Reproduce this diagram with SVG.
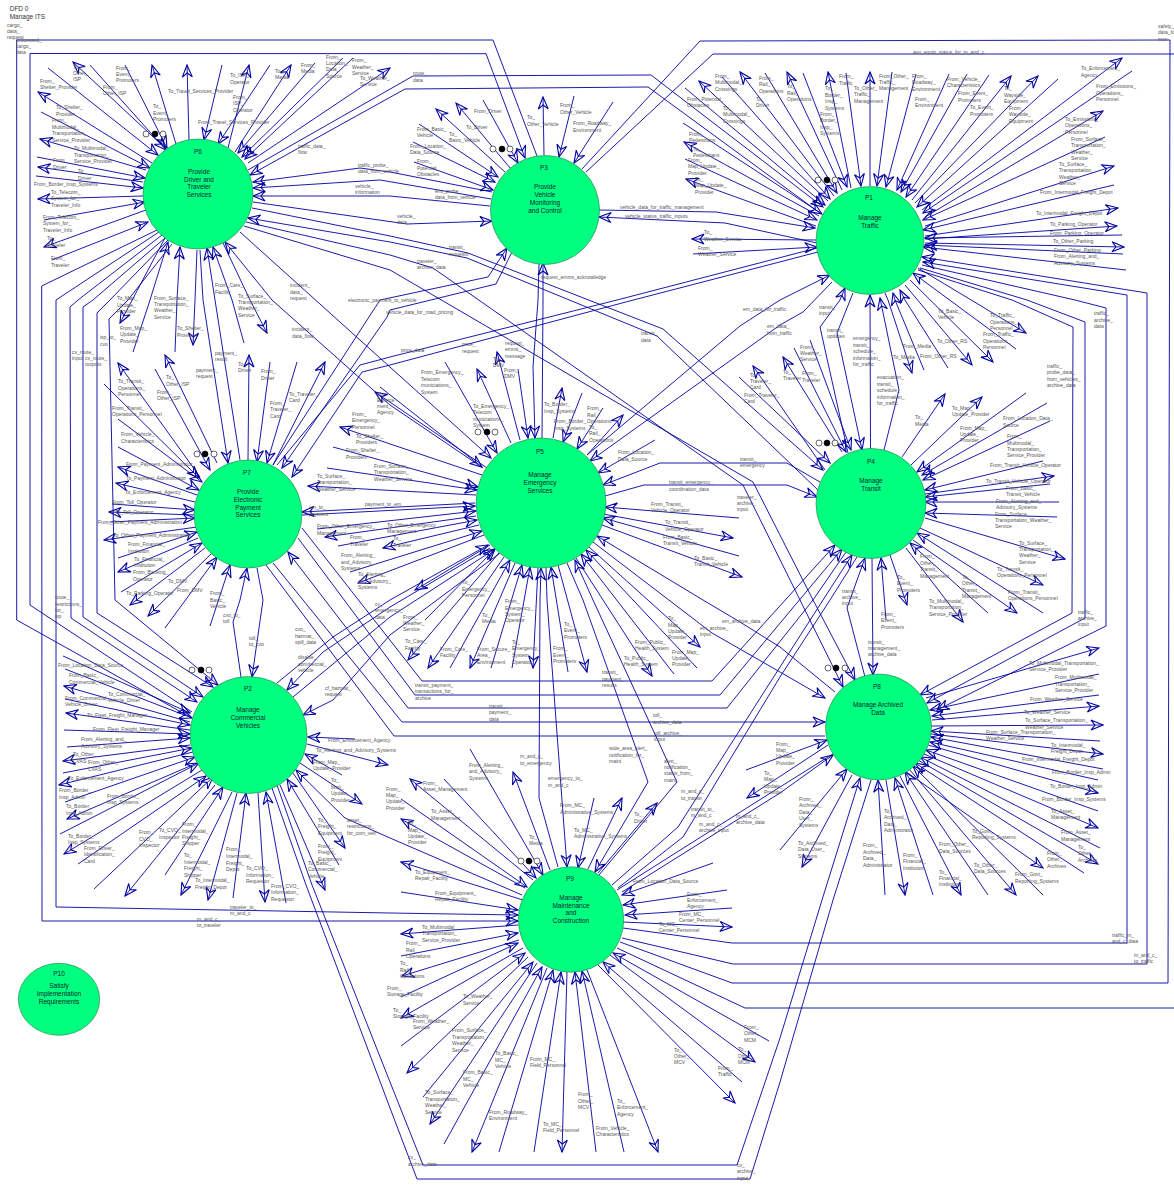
<svg xmlns="http://www.w3.org/2000/svg" width="1174" height="1185" viewBox="0 0 1174 1185">
<style>
path{fill:none;stroke:#0000a0;stroke-width:.9}
.a{marker-end:url(#h)}
.m{fill:none;stroke:#0000a0;stroke-width:1.1}
.t text{font:5px "Liberation Sans",Arial,sans-serif;fill:#555}
.d{font:6.5px "Liberation Sans",Arial,sans-serif;fill:#333}
.n{fill:#00ff7f;stroke:#2e8b57;stroke-width:.7}
.x{font:6.5px "Liberation Sans",Arial,sans-serif;fill:#023;text-anchor:middle}
.o{fill:#fff;stroke:#000;stroke-width:.6}
.b{fill:#000;stroke:#000;stroke-width:.6}
</style>
<defs><marker id="h" markerUnits="userSpaceOnUse" markerWidth="15" markerHeight="15" viewBox="-14 -7.5 15 15" refX="0" refY="0" orient="auto"><path class="m" d="M0,0L-12,-5L-8,0L-12,5Z"/></marker></defs>
<rect width="1174" height="1185" fill="#fff"/>
<g id="connectors">
<path class="a" d="M165,148L73,62"/><path class="a" d="M48,68L158,155"/><path class="a" d="M90,65L166,150"/><path class="a" d="M125,65L167,148"/><path class="a" d="M176,144L152,65"/><path class="a" d="M189,140L187,65"/><path class="a" d="M222,65L204,140"/><path class="a" d="M270,65L218,144"/><path class="a" d="M228,148L249,65"/><path class="a" d="M235,152L291,65"/><path class="a" d="M315,63L238,153"/><path class="a" d="M343,58L242,157"/><path class="a" d="M353,58L245,159"/><path class="a" d="M248,163L390,68"/>
<path class="a" d="M152,163L38,92"/><path class="a" d="M41,112L150,168"/><path class="a" d="M146,170L40,139"/><path class="a" d="M37,157L145,178"/><path class="a" d="M143,182L38,167"/><path class="a" d="M36,176L143,188"/><path class="a" d="M143,196L38,199"/><path class="a" d="M44,220L145,202"/><path class="a" d="M146,210L44,247"/><path class="a" d="M52,260L148,222"/>
<path class="a" d="M248,170L413,76L651,75L823,207"/><path class="a" d="M820,213L648,87L405,89L250,175"/>
<path class="a" d="M492,192L390,172L360,168L253,182"/><path class="a" d="M491,199L380,180L253,188"/><path class="a" d="M490,206L390,196L253,196"/><path class="a" d="M253,202L407,224L492,221"/>
<path class="a" d="M252,208L390,236L468,253L663,329L823,470"/><path class="a" d="M818,490L657,336L467,258L390,242L248,218"/>
<path class="a" d="M246,222L390,255L433,268L743,485L800,600L843,687"/><path class="a" d="M244,226L390,270L753,482L813,600L855,680"/>
<path class="a" d="M240,232L491,458"/><path class="a" d="M483,468L390,405L272,300L225,242"/>
<path class="a" d="M244,343L232,300L213,247"/><path class="a" d="M223,243L250,300L267,333"/><path class="a" d="M200,250L203,300L228,463"/><path class="a" d="M240,460L215,300L207,248"/><path class="a" d="M197,250L195,300L193,345"/><path class="a" d="M175,352L177,300L180,247"/><path class="a" d="M133,352L150,300L168,242"/><path class="a" d="M165,238L120,323"/>
<path d="M172,244L128,300L109,319L115,600L218,685" class="a"/><path d="M168,240L110,300L97,313L97,613L213,687" class="a"/><path d="M165,238L93,300L83,307L83,617L203,697" class="a"/><path d="M162,235L78,300L70,307L71,618L197,702" class="a"/>
<path d="M157,230L41.7,286L42,921L518,921" class="a"/><path d="M159,232L56,300L56,907L390,913L518,915" class="a"/>
<path class="a" d="M192,712L30,605L30,53.5L486,53.7L525,158"/><path d="M190,717L16.7,620L16.7,40L493,40L537,156"/>
<path d="M582,169L700,41L1170,40L1168,983L732,983L620,942"/><path d="M586,172L713,54L1174,54"/><path d="M617,948L745,1008L1174,1008"/>
<path class="a" d="M505,172L436,109"/><path class="a" d="M510,168L456,103"/><path class="a" d="M483,100L518,163"/><path class="a" d="M544,155L543,97"/><path class="a" d="M574,96L559,157"/><path class="a" d="M613,102L574,163"/><path class="a" d="M419,124L498,177"/><path class="a" d="M413,142L495,182"/><path class="a" d="M414,162L493,190"/>
<path class="a" d="M599,210L716,212L815,228"/><path class="a" d="M817,243L725,223L599,217"/>
<path class="a" d="M273,465L380,300L488,277L507,248"/><path class="a" d="M512,252L496,284L390,310L387,317L282,468"/>
<path d="M817,248L617,300L390,357L360,365L277,465"/><path class="a" d="M818,252L622,303L390,365L362,372L292,477"/>
<path class="a" d="M542,438L543,300L543,263"/><path class="a" d="M539,264L538,300L533,367L535,438"/>
<path class="a" d="M851,188L828,72"/><path class="a" d="M803,73L847,187"/><path class="a" d="M842,190L787,72"/><path class="a" d="M765,73L837,193"/><path class="a" d="M834,196L740,72"/><path class="a" d="M722,77L830,199"/><path class="a" d="M828,201L699,81"/><path class="a" d="M685,88L825,205"/><path class="a" d="M683,123L822,214"/><path class="a" d="M819,216L684,142"/><path class="a" d="M685,159L817,220"/><path class="a" d="M816,226L686,179"/><path class="a" d="M817,240L692,239"/><path class="a" d="M693,254L817,247"/>
<path class="a" d="M846,73L861,186"/><path class="a" d="M870,186L870,72"/><path class="a" d="M892,72L877,186"/><path class="a" d="M916,74L886,187"/><path class="a" d="M949,74L897,190"/><path class="a" d="M967,74L901,192"/><path class="a" d="M989,75L906,197"/><path class="a" d="M912,200L1011,76"/><path class="a" d="M915,203L1038,76"/><path class="a" d="M1058,79L917,207"/><path class="a" d="M922,210L1122,58"/><path class="a" d="M1132,71L923,213"/><path class="a" d="M925,217L1103,111"/><path class="a" d="M1105,137L923,220"/><path class="a" d="M925,226L1114,166"/><path class="a" d="M1114,185L923,230"/><path class="a" d="M925,236L1118,208"/><path class="a" d="M925,239L1117,226"/><path class="a" d="M1122,235L925,238"/><path class="a" d="M925,243L1124,247"/><path class="a" d="M1123,254L925,245"/><path class="a" d="M1126,270L923,247"/>
<path class="a" d="M622,938L733,964L1147,964L1147,293L922,257"/><path class="a" d="M623,928L732,943L1127,943L1127,295L923,262"/>
<path class="a" d="M922,265L1075,300L1106,308L1106,626L937,710"/><path class="a" d="M920,268L1027,300L1085,322L1085,618L927,703"/><path class="a" d="M918,270L1012,300L1073,327L1072,613L920,695"/>
<path class="a" d="M885,293L888,300L912,373"/><path class="a" d="M924,370L895,300L893,293"/><path class="a" d="M948,368L905,300L900,290"/><path class="a" d="M905,285L972,365"/><path class="a" d="M910,280L993,362"/><path class="a" d="M1016,349L913,273"/><path class="a" d="M918,268L1026,333"/>
<path class="a" d="M870.5,449L870,295"/><path class="a" d="M884,450L899,390L880,298"/>
<path class="a" d="M587,455L740,326L780,300L830,275"/><path class="a" d="M832,282L803,312L780,325L590,461"/>
<path class="a" d="M848,453L820,327L840,300L845,288"/><path class="a" d="M853,293L837,333L862,450"/>
<path class="a" d="M825,470L753,366"/><path class="a" d="M739,377L830,463"/><path class="a" d="M842,452L783,357"/><path class="a" d="M794,348L846,452"/><path class="a" d="M810,340L851,450"/>
<path class="a" d="M820,482L787,463L660,463L603,485"/><path class="a" d="M605,496L644,485L787,485L817,497"/>
<path class="a" d="M902,457L945,394"/><path class="a" d="M911,465L982,397"/><path class="a" d="M1026,393L917,472"/><path class="a" d="M1047,403L922,475"/><path class="a" d="M1050,421L923,480"/><path class="a" d="M1043,461L925,490"/><path class="a" d="M925,494L1054,476"/><path class="a" d="M1050,484L925,497"/><path class="a" d="M1059,502L925,502"/><path class="a" d="M1057,517L925,513"/><path class="a" d="M925,518L1065,559"/><path class="a" d="M920,528L1043,585"/><path class="a" d="M1043,613L917,533"/><path class="a" d="M913,540L1017,613"/><path class="a" d="M988,613L910,543"/><path class="a" d="M906,548L963,622"/><path class="a" d="M890,555L907,605"/><path class="a" d="M886,620L881,558"/><path class="a" d="M872,558L873,675"/><path class="a" d="M865,677L847,608L865,558"/>
<path class="a" d="M302,528L422,681L712,681L835,545"/><path class="a" d="M298,538L415,695L720,695L842,549"/><path class="a" d="M846,552L813,600L727,708L408,708L288,552"/><path class="a" d="M273,563L402,722L825,722"/><path d="M266,565L394,736L825,736"/>
<path class="a" d="M257,568L263,600L252,677"/><path class="a" d="M241,677L233,622L240,600L247,568"/>
<path class="a" d="M200,477L118,363"/><path class="a" d="M104,384L199,478"/><path class="a" d="M217,463L165,355"/><path class="a" d="M155,369L210,470"/><path class="a" d="M248,460L249,355"/><path class="a" d="M270,362L257,462"/><path class="a" d="M297,362L267,463"/><path class="a" d="M273,465L325,362"/>
<path class="a" d="M118,419L202,482"/><path class="a" d="M118,447L199,490"/><path class="a" d="M197,495L118,467"/><path class="a" d="M195,502L116,483"/><path class="a" d="M112,504L195,510"/><path class="a" d="M195,515L109,512"/><path class="a" d="M110,522L195,518"/><path class="a" d="M197,527L104,540"/><path class="a" d="M118,558L197,532"/><path class="a" d="M198,538L118,572"/><path class="a" d="M121,592L202,543"/><path class="a" d="M205,548L130,605"/><path class="a" d="M212,553L148,616"/><path class="a" d="M165,628L217,557"/><path class="a" d="M210,626L230,565"/>
<path class="a" d="M475,503L302,512"/><path class="a" d="M302,515L475,506"/>
<path class="a" d="M445,362L497,453"/><path class="a" d="M511,443L477,369"/><path class="a" d="M520,440L497,352"/><path class="a" d="M518,369L528,438"/><path class="a" d="M553,438L562,388"/><path class="a" d="M582,393L563,442"/><path class="a" d="M603,408L577,449"/><path class="a" d="M587,455L623,415"/><path class="a" d="M655,440L598,473"/>
<path class="a" d="M739,518L605,507"/><path class="a" d="M603,514L733,538"/><path class="a" d="M739,556L603,518"/><path class="a" d="M602,525L742,577"/>
<path class="a" d="M576,558L652,676"/><path class="a" d="M674,674L581,554"/><path class="a" d="M697,668L586,550"/><path class="a" d="M589,547L700,647"/>
<path class="a" d="M593,542L712,633L780,672L825,698"/><path class="a" d="M835,692L780,647L740,622L703,600L597,536"/>
<path class="a" d="M558,565L587,672"/><path class="a" d="M568,672L551,567"/><path class="a" d="M538,568L533,668"/><path class="a" d="M512,668L530,567"/><path class="a" d="M491,668L522,565"/><path class="a" d="M515,563L470,668"/><path class="a" d="M450,668L510,560"/><path class="a" d="M504,557L428,668"/><path class="a" d="M499,553L408,660"/><path class="a" d="M425,620L495,549"/>
<path class="a" d="M490,470L375,392"/><path class="a" d="M380,387L482,467"/><path class="a" d="M482,475L340,427"/><path class="a" d="M333,447L478,487"/><path class="a" d="M327,468L477,490"/><path class="a" d="M476,495L308,486"/>
<path class="a" d="M317,529L476,511"/><path class="a" d="M476,516L325,537"/><path class="a" d="M338,546L477,520"/><path class="a" d="M479,525L383,548"/><path class="a" d="M350,572L482,531"/><path class="a" d="M484,535L358,583"/><path class="a" d="M490,545L415,590"/>
<path class="a" d="M277,683L333,637L390,600L488,545"/><path class="a" d="M490,548L390,607L323,652L287,690"/><path class="a" d="M293,697L390,617L495,549"/><path class="a" d="M500,553L390,635L333,700L303,715"/>
<path class="a" d="M558,867L539,798L540,600L541,568"/><path class="a" d="M546,568L547,600L567,867"/>
<path class="a" d="M567,563L583,600L648,782L595,872"/><path class="a" d="M599,875L677,782L593,600L575,560"/>
<path d="M612,885L678,827L780,667L823,600L852,555" class="a"/><path d="M857,557L830,600L780,677L683,837L618,888"/>
<path class="a" d="M63,656L190,713"/><path class="a" d="M65,669L192,718"/><path class="a" d="M190,722L64,686"/><path class="a" d="M65,699L190,725"/><path class="a" d="M190,730L66,713"/><path class="a" d="M64,730L190,734"/><path class="a" d="M67,747L190,738"/><path class="a" d="M190,745L63,761"/><path class="a" d="M63,773L192,748"/><path class="a" d="M193,752L59,785"/><path class="a" d="M65,802L195,757"/><path class="a" d="M197,763L67,819"/><path class="a" d="M60,834L199,763"/><path class="a" d="M202,770L64,854"/><path class="a" d="M78,864L206,776"/><path class="a" d="M215,785L125,896"/><path class="a" d="M94,889L213,777"/><path class="a" d="M165,875L223,787"/><path class="a" d="M232,792L181,895"/><path class="a" d="M233,898L246,793"/><path class="a" d="M237,793L208,900"/><path class="a" d="M258,793L265,902"/><path class="a" d="M286,903L266,792"/>
<path class="a" d="M355,739L308,737"/><path class="a" d="M307,744L388,765"/><path class="a" d="M342,775L305,754"/><path class="a" d="M300,763L362,804"/><path class="a" d="M522,895L390,838L345,818L296,770"/><path class="a" d="M293,773L345,848"/><path class="a" d="M339,865L287,779"/><path class="a" d="M280,785L325,890"/>
<path class="a" d="M277,785L312,885L390,1082L423,1165L737,1165L780,1038L822,900L860,778"/><path d="M272,788L306,885L390,1108L417,1179L750,1179L780,1082L833,900L871,780"/>
<path class="a" d="M926,698L1099,648"/><path class="a" d="M1099,674L930,710"/><path class="a" d="M1099,695L932,716"/><path class="a" d="M932,720L1099,706"/><path class="a" d="M931,726L1103,725"/><path class="a" d="M1100,741L931,731"/><path class="a" d="M931,734L1103,754"/><path class="a" d="M1103,769L931,737"/><path class="a" d="M1098,780L930,742"/><path class="a" d="M928,745L1098,793"/><path class="a" d="M1098,811L926,750"/><path class="a" d="M924,754L1098,828"/><path class="a" d="M1100,848L920,757"/><path class="a" d="M918,760L1098,864"/><path class="a" d="M1084,873L915,763"/><path class="a" d="M905,771L1043,868"/><path class="a" d="M1043,895L913,766"/><path class="a" d="M909,769L1016,895"/><path class="a" d="M988,895L905,772"/><path class="a" d="M900,776L961,895"/><path class="a" d="M933,895L895,778"/><path class="a" d="M886,780L905,895"/><path class="a" d="M885,895L878,780"/><path class="a" d="M852,775L802,867"/><path class="a" d="M780,850L847,769"/>
<path class="a" d="M746,770L827,740"/><path class="a" d="M828,745L747,798"/><path class="a" d="M622,892L780,793L833,755"/><path d="M617,890L780,787L836,752"/>
<path class="a" d="M470,749L543,875"/><path class="a" d="M550,870L513,772"/><path class="a" d="M594,798L578,868"/><path class="a" d="M588,869L622,798"/><path class="a" d="M598,873L657,803"/>
<path class="a" d="M713,863L622,895"/><path class="a" d="M727,890L623,905"/><path class="a" d="M732,908L625,915"/><path class="a" d="M623,922L732,927"/><path class="a" d="M769,1041L613,953"/><path class="a" d="M610,955L755,1062"/><path class="a" d="M742,1082L603,962"/><path class="a" d="M598,965L735,1103"/><path class="a" d="M587,970L658,1152"/><path class="a" d="M624,1152L582,971"/><path class="a" d="M596,1152L575,972"/><path class="a" d="M567,972L562,1152"/><path class="a" d="M534,1152L561,972"/><path class="a" d="M499,1152L553,970"/><path class="a" d="M547,968L472,1152"/><path class="a" d="M444,1144L542,967"/><path class="a" d="M537,963L430,1124"/><path class="a" d="M423,1097L533,962"/><path class="a" d="M528,957L407,1073"/><path class="a" d="M401,1046L525,953"/><path class="a" d="M523,948L401,1018"/><path class="a" d="M401,997L518,943"/><path class="a" d="M519,940L402,976"/><path class="a" d="M401,956L518,933"/><path class="a" d="M518,925L401,934"/><path class="a" d="M401,892L518,910"/><path class="a" d="M523,900L401,862"/><path class="a" d="M525,888L401,819"/><path class="a" d="M401,799L527,887"/><path class="a" d="M533,880L410,779"/><path class="a" d="M444,779L536,878"/>
</g>
<g id="P1"><circle class="n" cx="870" cy="240.5" r="54"/><text class="x"><tspan x="869" y="200">P1</tspan><tspan x="870" y="220">Manage</tspan><tspan x="870" y="228">Traffic</tspan></text><circle class="o" cx="818" cy="180" r="3"/><circle class="b" cx="827" cy="180" r="3"/><circle class="o" cx="835" cy="180" r="3"/></g>
<g id="P2"><circle class="n" cx="248.5" cy="735" r="58.5"/><text class="x"><tspan x="248" y="691">P2</tspan><tspan x="248" y="712">Manage</tspan><tspan x="248" y="720">Commercial</tspan><tspan x="248" y="728">Vehicles</tspan></text><circle class="o" cx="192" cy="670" r="3"/><circle class="b" cx="201" cy="670" r="3"/><circle class="o" cx="209" cy="670" r="3"/></g>
<g id="P3"><circle class="n" cx="545" cy="210" r="54.5"/><text class="x"><tspan x="544" y="170">P3</tspan><tspan x="545" y="189">Provide</tspan><tspan x="545" y="197">Vehicle</tspan><tspan x="545" y="205">Monitoring</tspan><tspan x="545" y="213">and Control</tspan></text><circle class="o" cx="493" cy="149" r="3"/><circle class="b" cx="502" cy="149" r="3"/><circle class="o" cx="510" cy="149" r="3"/></g>
<g id="P4"><circle class="n" cx="871" cy="503.5" r="55"/><text class="x"><tspan x="871" y="464">P4</tspan><tspan x="871" y="483">Manage</tspan><tspan x="871" y="491">Transit</tspan></text><circle class="o" cx="819" cy="443" r="3"/><circle class="b" cx="827" cy="443" r="3"/><circle class="o" cx="835" cy="443" r="3"/></g>
<g id="P5"><circle class="n" cx="541" cy="503" r="65"/><text class="x"><tspan x="540" y="454">P5</tspan><tspan x="540" y="477">Manage</tspan><tspan x="540" y="485">Emergency</tspan><tspan x="540" y="493">Services</tspan></text><circle class="o" cx="478" cy="432" r="3"/><circle class="b" cx="487" cy="432" r="3"/><circle class="o" cx="495" cy="432" r="3"/></g>
<g id="P6"><circle class="n" cx="198" cy="194" r="55"/><text class="x"><tspan x="198" y="154">P6</tspan><tspan x="199" y="174">Provide</tspan><tspan x="199" y="182">Driver and</tspan><tspan x="199" y="189">Traveler</tspan><tspan x="199" y="197">Services</tspan></text><circle class="o" cx="146" cy="134" r="3"/><circle class="b" cx="155" cy="134" r="3"/><circle class="o" cx="163" cy="134" r="3"/></g>
<g id="P7"><circle class="n" cx="248" cy="514" r="54"/><text class="x"><tspan x="247" y="475">P7</tspan><tspan x="248" y="494">Provide</tspan><tspan x="248" y="502">Electronic</tspan><tspan x="248" y="510">Payment</tspan><tspan x="248" y="517">Services</tspan></text><circle class="o" cx="197" cy="454" r="3"/><circle class="b" cx="205" cy="454" r="3"/><circle class="o" cx="214" cy="454" r="3"/></g>
<g id="P8"><circle class="n" cx="878.5" cy="727" r="53"/><text class="x"><tspan x="877" y="689">P8</tspan><tspan x="878" y="707">Manage Archived</tspan><tspan x="878" y="715">Data</tspan></text><circle class="o" cx="828" cy="668" r="3"/><circle class="b" cx="836" cy="668" r="3"/><circle class="o" cx="845" cy="668" r="3"/></g>
<g id="P9"><circle class="n" cx="571" cy="919.5" r="52.7"/><text class="x"><tspan x="570" y="881">P9</tspan><tspan x="571" y="900">Manage</tspan><tspan x="571" y="908">Maintenance</tspan><tspan x="571" y="915">and</tspan><tspan x="571" y="923">Construction</tspan></text><circle class="o" cx="521" cy="861" r="3"/><circle class="b" cx="529" cy="861" r="3"/><circle class="o" cx="537" cy="861" r="3"/></g>
<g id="P10"><ellipse class="n" cx="59" cy="999.3" rx="40.7" ry="36"/><text class="x"><tspan x="59" y="976">P10</tspan><tspan x="59" y="988">Satisfy</tspan><tspan x="59" y="996">Implementation</tspan><tspan x="59" y="1004">Requirements</tspan></text></g>
<text class="d" x="9.7" y="11">DFD 0</text><text class="d" x="9.7" y="19">Manage ITS</text>
<g id="labels" class="t">
<text x="7" y="27">cargo_<tspan x="7" dy="6">data_</tspan><tspan x="7" dy="5.5">request</tspan></text>
<text x="16" y="41.5">processed_<tspan x="16" dy="6.5">cargo_</tspan><tspan x="16" dy="6">data</tspan></text>
<text x="73" y="68.5">To_<tspan x="73" dy="6.2">Other_</tspan><tspan x="73" dy="6.2">ISP</tspan></text>
<text x="103" y="89">From_<tspan x="103" dy="6.2">Other_ISP</tspan></text>
<text x="116" y="70">From_<tspan x="116" dy="6.2">Event_</tspan><tspan x="116" dy="6.2">Promoters</tspan></text>
<text x="40" y="83">From_<tspan x="40" dy="6.2">Shelter_Provider</tspan></text>
<text x="168" y="93">To_Travel_Services_Provider</text>
<text x="230" y="77">To_ISP_<tspan x="230" dy="6.8">Operator</tspan></text>
<text x="233" y="98.5">From_<tspan x="233" dy="6.5">ISP_</tspan><tspan x="233" dy="6.5">Operator</tspan></text>
<text x="275" y="73">To_<tspan x="275" dy="6.2">Media</tspan></text>
<text x="301" y="67">From_<tspan x="301" dy="6.2">Media</tspan></text>
<text x="326" y="59">From_<tspan x="326" dy="6.2">Location_</tspan><tspan x="326" dy="6.2">Data_</tspan><tspan x="326" dy="6.2">Source</tspan></text>
<text x="352" y="62">From_<tspan x="352" dy="6.5">Weather_</tspan><tspan x="352" dy="6.5">Service</tspan></text>
<text x="360" y="80">To_Weather_<tspan x="360" dy="6.2">Service</tspan></text>
<text x="153" y="108">To_<tspan x="153" dy="6.5">Event_</tspan><tspan x="153" dy="6.5">Promoters</tspan></text>
<text x="198" y="124">From_Travel_Services_Provider</text>
<text x="56" y="109">To_Shelter_<tspan x="56" dy="6.8">Provider</tspan></text>
<text x="52" y="122">From_<tspan x="52" dy="6.5">Multimodal_</tspan><tspan x="52" dy="6.5">Transportation_</tspan><tspan x="52" dy="6.5">Service_Provider</tspan></text>
<text x="74" y="150">To_Multimodal_<tspan x="74" dy="6.5">Transportation_</tspan><tspan x="74" dy="6.5">Service_Provider</tspan></text>
<text x="53" y="162">From_<tspan x="53" dy="6.5">Driver</tspan></text>
<text x="78" y="173">To_<tspan x="78" dy="7">Driver</tspan></text>
<text x="34" y="186">From_Border_Insp_Systems</text>
<text x="51" y="194">To_Telecom_<tspan x="51" dy="6.4">System_for_</tspan><tspan x="51" dy="6.4">Traveler_Info</tspan></text>
<text x="43" y="219">From_Telecom_<tspan x="43" dy="6.4">System_for_</tspan><tspan x="43" dy="6.4">Traveler_Info</tspan></text>
<text x="47" y="240">To_<tspan x="47" dy="6.6">Traveler</tspan></text>
<text x="51" y="260">From_<tspan x="51" dy="6.6">Traveler</tspan></text>
<text x="298" y="148">traffic_data_<tspan x="298" dy="6.2">flow</tspan></text>
<text x="358" y="167">traffic_probe_<tspan x="358" dy="6.2">data_from_vehicle</tspan></text>
<text x="355" y="188">vehicle_<tspan x="355" dy="6.4">information</tspan></text>
<text x="215" y="287">From_Care_<tspan x="215" dy="7">Facility</tspan></text>
<text x="238" y="298">To_Surface_<tspan x="238" dy="6.2">Transportation_</tspan><tspan x="238" dy="6.2">Weather_</tspan><tspan x="238" dy="6.2">Service</tspan></text>
<text x="290" y="287">incident_<tspan x="290" dy="6.6">data_</tspan><tspan x="290" dy="6.6">request</tspan></text>
<text x="348" y="302">electronic_payment_to_vehicle</text>
<text x="386" y="314">vehicle_data_for_road_pricing</text>
<text x="117" y="300">To_Map_<tspan x="117" dy="6.5">Update_</tspan><tspan x="117" dy="6.5">Provider</tspan></text>
<text x="154" y="300">From_Surface_<tspan x="154" dy="6.2">Transportation_</tspan><tspan x="154" dy="6.2">Weather_</tspan><tspan x="154" dy="6.2">Service</tspan></text>
<text x="120" y="330">From_Map_<tspan x="120" dy="6.4">Update_</tspan><tspan x="120" dy="6.4">Provider</tspan></text>
<text x="177" y="330">To_Shelter_<tspan x="177" dy="6.6">Provider</tspan></text>
<text x="100" y="339">isp_to_<tspan x="100" dy="6.6">cvo</tspan></text>
<text x="72" y="354">cv_route_<tspan x="72" dy="6">input</tspan></text>
<text x="85" y="360">cv_route_<tspan x="85" dy="6">outputs</tspan></text>
<text x="292" y="331">incident_<tspan x="292" dy="6.6">data_flow</tspan></text>
<text x="215" y="355">payment_<tspan x="215" dy="6">result</tspan></text>
<text x="238" y="366">To_<tspan x="238" dy="6">Driver</tspan></text>
<text x="261" y="373">From_<tspan x="261" dy="7">Driver</tspan></text>
<text x="196" y="372">payment_<tspan x="196" dy="6">request</tspan></text>
<text x="166" y="379">To_<tspan x="166" dy="6.6">Other_ISP</tspan></text>
<text x="157" y="394">From_<tspan x="157" dy="6.4">Other_ISP</tspan></text>
<text x="118" y="383">To_Transit_<tspan x="118" dy="6.7">Operations_</tspan><tspan x="118" dy="6.2">Personnel</tspan></text>
<text x="270" y="405">From_<tspan x="270" dy="6.2">Traveler_</tspan><tspan x="270" dy="6.4">Card</tspan></text>
<text x="289" y="396">To_Traveler_<tspan x="289" dy="6">Card</tspan></text>
<text x="112" y="410">From_Transit_<tspan x="112" dy="6">Operations_Personnel</tspan></text>
<text x="121" y="436">From_Vehicle_<tspan x="121" dy="7">Characteristics</tspan></text>
<text x="126" y="466">From_Payment_Administrator</text>
<text x="126" y="480">To_Payment_Administrator</text>
<text x="125" y="494">To_Enforcement_Agency</text>
<text x="112" y="504">From_Toll_Operator</text>
<text x="115" y="514">To_Toll_Operator</text>
<text x="98" y="524">From_Other_Payment_Administration</text>
<text x="113" y="537">To_Other_Payment_Administration</text>
<text x="128" y="546">From_Financial_<tspan x="128" dy="7">Institution</tspan></text>
<text x="134" y="561">To_Financial_<tspan x="134" dy="6">Institution</tspan></text>
<text x="133" y="574">From_Banking_<tspan x="133" dy="7">Operator</tspan></text>
<text x="168" y="583">To_DMV</text>
<text x="126" y="595">To_Parking_Operator</text>
<text x="177" y="592">From_DMV</text>
<text x="210" y="595">From_<tspan x="210" dy="6.5">Basic_</tspan><tspan x="210" dy="6">Vehicle</tspan></text>
<text x="223" y="617">cvo_to_<tspan x="223" dy="6">toll</tspan></text>
<text x="249" y="640">toll_<tspan x="249" dy="6">to_cvo</tspan></text>
<text x="55" y="599">route_<tspan x="55" dy="6.5">restrictions_</tspan><tspan x="55" dy="6">for_</tspan><tspan x="55" dy="6.5">isp</tspan></text>
<text x="317" y="478">To_Surface_<tspan x="317" dy="6.4">Transportation_</tspan><tspan x="317" dy="6.6">Weather_Service</tspan></text>
<text x="309" y="509">em_to_<tspan x="309" dy="7">payment</tspan></text>
<text x="365" y="506">payment_to_em</text>
<text x="317" y="528">From_Other_Emergency_<tspan x="317" dy="7.3">Management</tspan></text>
<text x="350" y="539">From_<tspan x="350" dy="6.6">Traveler</tspan></text>
<text x="341" y="557">From_Alerting_<tspan x="341" dy="6.6">and_Advisory_</tspan><tspan x="341" dy="6.6">Systems</tspan></text>
<text x="358" y="576">To_Alerting_<tspan x="358" dy="7">and_Advisory_</tspan><tspan x="358" dy="6.4">Systems</tspan></text>
<text x="387" y="527">To_Other_Emergency_<tspan x="387" dy="6">Management</tspan></text>
<text x="393" y="540">To_<tspan x="393" dy="6.5">Traveler</tspan></text>
<text x="352" y="416">From_<tspan x="352" dy="6">Emergency_</tspan><tspan x="352" dy="6.6">Personnel</tspan></text>
<text x="356" y="438">To_Shelter_<tspan x="356" dy="6.4">Providers</tspan></text>
<text x="346" y="452">From_Shelter_<tspan x="346" dy="6.6">Providers</tspan></text>
<text x="374" y="468">From_Surface_<tspan x="374" dy="6.4">Transportation_</tspan><tspan x="374" dy="6.4">Weather_Service</tspan></text>
<text x="377" y="396">To_<tspan x="377" dy="6">Enforce</tspan><tspan x="377" dy="6">ment_</tspan><tspan x="377" dy="6">Agency</tspan></text>
<text x="401" y="352">price_data</text>
<text x="462" y="346">price_<tspan x="462" dy="6.6">request</tspan></text>
<text x="505" y="345">request_<tspan x="505" dy="6">emms_</tspan><tspan x="505" dy="6.6">message</tspan></text>
<text x="493" y="361">To_<tspan x="493" dy="6">DMV</tspan></text>
<text x="504" y="372">From_<tspan x="504" dy="6">DMV</tspan></text>
<text x="421" y="374">From_Emergency_<tspan x="421" dy="6.6">Telecom</tspan><tspan x="421" dy="6.6">municiations_</tspan><tspan x="421" dy="6.4">System</tspan></text>
<text x="473" y="408">To_Emergency_<tspan x="473" dy="6.4">Telecom</tspan><tspan x="473" dy="6.4">municiations_</tspan><tspan x="473" dy="6.4">System</tspan></text>
<text x="544" y="406">To_Border_<tspan x="544" dy="7">Insp_Systems</tspan></text>
<text x="554" y="423">From_Border_<tspan x="554" dy="6.6">Insp_Systems</tspan></text>
<text x="587" y="410">From_<tspan x="587" dy="6.6">Rail_</tspan><tspan x="587" dy="6.6">Operations</tspan></text>
<text x="589" y="429">To_<tspan x="589" dy="6">Rail_</tspan><tspan x="589" dy="6.6">Operations</tspan></text>
<text x="618" y="454">From_Location_<tspan x="618" dy="7">Data_Source</tspan></text>
<text x="740" y="461">transit_<tspan x="740" dy="6">emergency</tspan></text>
<text x="669" y="484">transit_emergency_<tspan x="669" dy="7">coordination_data</tspan></text>
<text x="651" y="506">From_Transit_<tspan x="651" dy="6">Vehicle_Operator</tspan></text>
<text x="665" y="524">To_Transit_<tspan x="665" dy="7">Vehicle_Operator</tspan></text>
<text x="663" y="539">From_Basic_<tspan x="663" dy="6">Transit_Vehicle</tspan></text>
<text x="694" y="560">To_Basic_<tspan x="694" dy="6">Transit_Vehicle</tspan></text>
<text x="737" y="499">traveler_<tspan x="737" dy="6">archive_</tspan><tspan x="737" dy="6">input</tspan></text>
<text x="641" y="335">transit_<tspan x="641" dy="6.6">data</tspan></text>
<text x="743" y="311">em_data_for_traffic</text>
<text x="767" y="328">em_data_<tspan x="767" dy="6.6">from_traffic</tspan></text>
<text x="449" y="249">transit_<tspan x="449" dy="6.6">requests</tspan></text>
<text x="417" y="263">traveler_<tspan x="417" dy="6">archive_data</tspan></text>
<text x="413" y="75">route_<tspan x="413" dy="6.6">data</tspan></text>
<text x="435" y="193">env_probe_<tspan x="435" dy="6">data_from_vehicle</tspan></text>
<text x="397" y="218">vehicle_<tspan x="397" dy="6">data</tspan></text>
<text x="417" y="131">From_Basic_<tspan x="417" dy="6">Vehicle</tspan></text>
<text x="449" y="136">To_<tspan x="449" dy="6">Basic_Vehicle</tspan></text>
<text x="466" y="129">To_Driver</text>
<text x="474" y="113">From_Driver</text>
<text x="410" y="148">From_Location_<tspan x="410" dy="6">Data_Source</tspan></text>
<text x="417" y="163">From_<tspan x="417" dy="6.5">Potential_</tspan><tspan x="417" dy="6">Obstacles</tspan></text>
<text x="527" y="119">To_<tspan x="527" dy="6.6">Other_Vehicle</tspan></text>
<text x="560" y="107">From_<tspan x="560" dy="6.6">Other_Vehicle</tspan></text>
<text x="573" y="125">From_Roadway_<tspan x="573" dy="6.6">Environment</tspan></text>
<text x="620" y="209">vehicle_data_for_traffic_management</text>
<text x="625" y="218">vehicle_status_traffic_inputs</text>
<text x="541" y="279">request_emms_acknowledge</text>
<text x="715" y="78">From_<tspan x="715" dy="6">Multimodal_</tspan><tspan x="715" dy="6.6">Crossings</tspan></text>
<text x="759" y="80">From_<tspan x="759" dy="6.4">Rail_</tspan><tspan x="759" dy="6.4">Operations</tspan></text>
<text x="756" y="101">To_<tspan x="756" dy="6">Driver</tspan></text>
<text x="687" y="101">From_Potential_<tspan x="687" dy="6">Obstacles</tspan></text>
<text x="723" y="110">To_<tspan x="723" dy="6">Multimodal_</tspan><tspan x="723" dy="6.6">Crossings</tspan></text>
<text x="689" y="136">From_<tspan x="689" dy="6">Pedestrians</tspan></text>
<text x="693" y="151">To_<tspan x="693" dy="6.4">Pedestrians</tspan></text>
<text x="688" y="162">From_<tspan x="688" dy="6.4">Map_Update_</tspan><tspan x="688" dy="6.6">Provider</tspan></text>
<text x="695" y="181">To_<tspan x="695" dy="6.4">Map_Update_</tspan><tspan x="695" dy="6.6">Provider</tspan></text>
<text x="704" y="234">To_<tspan x="704" dy="7">Weather_Service</tspan></text>
<text x="698" y="250">From_<tspan x="698" dy="6">Weather_Service</tspan></text>
<text x="787" y="88">To_<tspan x="787" dy="6.6">Rail_</tspan><tspan x="787" dy="6.6">Operations</tspan></text>
<text x="825" y="90">To_<tspan x="825" dy="6.6">Border_</tspan><tspan x="825" dy="6.6">Insp_</tspan><tspan x="825" dy="6.6">Systems</tspan></text>
<text x="839" y="78">From_<tspan x="839" dy="6.6">Traffic</tspan></text>
<text x="854" y="90">To_Other_<tspan x="854" dy="6.4">Traffic_</tspan><tspan x="854" dy="6.6">Management</tspan></text>
<text x="879" y="78">From_Other_<tspan x="879" dy="6">Traffic_</tspan><tspan x="879" dy="6">Management</tspan></text>
<text x="912" y="78">From_<tspan x="912" dy="6">Roadway_</tspan><tspan x="912" dy="6.5">Environment</tspan></text>
<text x="915" y="101">From_<tspan x="915" dy="6.4">Environment</tspan></text>
<text x="947" y="81">From_Vehicle_<tspan x="947" dy="6">Characteristics</tspan></text>
<text x="958" y="95">From_Event_<tspan x="958" dy="6.6">Promoters</tspan></text>
<text x="970" y="109">To_Event_<tspan x="970" dy="6.6">Promoters</tspan></text>
<text x="1004" y="90">To_<tspan x="1004" dy="6.6">Wayside_</tspan><tspan x="1004" dy="6.6">Equipment</tspan></text>
<text x="1009" y="110">From_<tspan x="1009" dy="6.4">Wayside_</tspan><tspan x="1009" dy="6.6">Equipment</tspan></text>
<text x="820" y="116">From_<tspan x="820" dy="6.4">Border_</tspan><tspan x="820" dy="6.4">Insp_</tspan><tspan x="820" dy="6.4">Systems</tspan></text>
<text x="1081" y="70">To_Enforcement_<tspan x="1081" dy="7">Agency</tspan></text>
<text x="1096" y="88">From_Emissions_<tspan x="1096" dy="6.6">Operations_</tspan><tspan x="1096" dy="6.2">Personnel</tspan></text>
<text x="1065" y="121">To_Emissions_<tspan x="1065" dy="6.4">Operations_</tspan><tspan x="1065" dy="6.6">Personnel</tspan></text>
<text x="1071" y="141">From_Surface_<tspan x="1071" dy="6.2">Transportation_</tspan><tspan x="1071" dy="6.6">Weather_</tspan><tspan x="1071" dy="6.4">Service</tspan></text>
<text x="1059" y="166">To_Surface_<tspan x="1059" dy="6.2">Transportation_</tspan><tspan x="1059" dy="6.6">Weather_</tspan><tspan x="1059" dy="6.2">Service</tspan></text>
<text x="1040" y="194">From_Intermodal_Freight_Depot</text>
<text x="1036" y="215">To_Intermodal_Freight_Depot</text>
<text x="1050" y="226">To_Parking_Operator</text>
<text x="1050" y="235">From_Parking_Operator</text>
<text x="1053" y="243">To_Other_Parking</text>
<text x="1054" y="252">From_Other_Parking</text>
<text x="1054" y="258">From_Alerting_and_<tspan x="1054" dy="7">Advisory_Systems</tspan></text>
<text x="913" y="54">avo_equip_status_for_m_and_c</text>
<text x="1158" y="28">safety_<tspan x="1158" dy="6.4">data_for_</tspan><tspan x="1158" dy="6.4">mcv</tspan></text>
<text x="819" y="309">transit_<tspan x="819" dy="6">input</tspan></text>
<text x="827" y="332">transit_<tspan x="827" dy="6">updates</tspan></text>
<text x="853" y="340">emergency_<tspan x="853" dy="6.5">transit_</tspan><tspan x="853" dy="6.4">schedule_</tspan><tspan x="853" dy="6.6">information_</tspan><tspan x="853" dy="6.4">for_traffic</tspan></text>
<text x="877" y="379">evacuation_<tspan x="877" dy="6.5">transit_</tspan><tspan x="877" dy="6.5">schedule_</tspan><tspan x="877" dy="6.5">information_</tspan><tspan x="877" dy="6.5">for_traffic</tspan></text>
<text x="938" y="313">To_Basic_<tspan x="938" dy="6.4">Vehicle</tspan></text>
<text x="937" y="343">To_Other_RS</text>
<text x="903" y="348">From_Media</text>
<text x="920" y="358">From_Other_RS</text>
<text x="893" y="359">To_Media</text>
<text x="990" y="317">To_Traffic_<tspan x="990" dy="6.6">Operations_</tspan><tspan x="990" dy="6.4">Personnel</tspan></text>
<text x="983" y="336">From_Traffic_<tspan x="983" dy="6.6">Operations_</tspan><tspan x="983" dy="6.4">Personnel</tspan></text>
<text x="1094" y="315">traffic_<tspan x="1094" dy="6.6">archive_</tspan><tspan x="1094" dy="6">data</tspan></text>
<text x="1047" y="368">traffic_<tspan x="1047" dy="6.4">probe_data_</tspan><tspan x="1047" dy="6.6">from_vehicles_</tspan><tspan x="1047" dy="6">archive_data</tspan></text>
<text x="800" y="349">From_<tspan x="800" dy="6.4">Weather_</tspan><tspan x="800" dy="6">Service</tspan></text>
<text x="783" y="374">To_<tspan x="783" dy="6.4">Traveler</tspan></text>
<text x="802" y="375">From_<tspan x="802" dy="6.6">Traveler</tspan></text>
<text x="915" y="419">To_<tspan x="915" dy="6.6">Media</tspan></text>
<text x="952" y="410">To_Map_<tspan x="952" dy="6">Update_Provider</tspan></text>
<text x="960" y="430">From_Map_<tspan x="960" dy="6">Update_</tspan><tspan x="960" dy="6">Provider</tspan></text>
<text x="1003" y="420">From_Location_Data_<tspan x="1003" dy="6.6">Source</tspan></text>
<text x="1007" y="438">From_<tspan x="1007" dy="6.6">Multimodal_</tspan><tspan x="1007" dy="6.4">Transportation_</tspan><tspan x="1007" dy="6.4">Service_Provider</tspan></text>
<text x="990" y="467">From_Transit_Vehicle_Operator</text>
<text x="986" y="483">To_Transit_Vehicle_Operator</text>
<text x="1006" y="490">From_Basic_<tspan x="1006" dy="5.8">Transit_Vehicle</tspan></text>
<text x="996" y="503">From_Alerting_and_<tspan x="996" dy="6.4">Advisory_Systems</tspan></text>
<text x="995" y="516">From_Surface_<tspan x="995" dy="6">Transportation_Weather_</tspan><tspan x="995" dy="6">Service</tspan></text>
<text x="1019" y="545">To_Surface_<tspan x="1019" dy="6">Transportation_</tspan><tspan x="1019" dy="6.4">Weather_</tspan><tspan x="1019" dy="6.4">Service</tspan></text>
<text x="997" y="571">To_Transit_<tspan x="997" dy="6">Operations_Personnel</tspan></text>
<text x="1008" y="594">From_Transit_<tspan x="1008" dy="6.4">Operations_Personnel</tspan></text>
<text x="920" y="558">From_<tspan x="920" dy="6.6">Other_</tspan><tspan x="920" dy="6.6">Transit_</tspan><tspan x="920" dy="6.4">Management</tspan></text>
<text x="962" y="579">To_<tspan x="962" dy="6">Other_</tspan><tspan x="962" dy="6.6">Transit_</tspan><tspan x="962" dy="6">Management</tspan></text>
<text x="897" y="579">To_<tspan x="897" dy="6">Event_</tspan><tspan x="897" dy="6.6">Promoters</tspan></text>
<text x="842" y="593">transit_<tspan x="842" dy="6">archive_</tspan><tspan x="842" dy="6">input</tspan></text>
<text x="881" y="616">From_<tspan x="881" dy="6.4">Event_</tspan><tspan x="881" dy="6.6">Promoters</tspan></text>
<text x="929" y="603">To_Multimodal_<tspan x="929" dy="6.4">Transportation_</tspan><tspan x="929" dy="6.6">Service_Provider</tspan></text>
<text x="750" y="377">To_<tspan x="750" dy="6">Traveler_</tspan><tspan x="750" dy="6.4">Card</tspan></text>
<text x="744" y="397">From_Traveler_<tspan x="744" dy="6">Card</tspan></text>
<text x="868" y="644">transit_<tspan x="868" dy="6">management_</tspan><tspan x="868" dy="6">archive_data</tspan></text>
<text x="1078" y="614">traffic_<tspan x="1078" dy="6">archive_</tspan><tspan x="1078" dy="6">input</tspan></text>
<text x="1029" y="665">To_Multimodal_Transportation_<tspan x="1029" dy="6">Service_Provider</tspan></text>
<text x="1055" y="679">From_Multimodal_<tspan x="1055" dy="6.6">Transportation_</tspan><tspan x="1055" dy="6.2">Service_Provider</tspan></text>
<text x="1030" y="701">From_Weather_Service</text>
<text x="1024" y="714">To_Weather_Service</text>
<text x="1025" y="722">To_Surface_Transportation_<tspan x="1025" dy="7">Weather_Service</tspan></text>
<text x="986" y="734">From_Surface_Transportation_<tspan x="986" dy="5.8">Weather_Service</tspan></text>
<text x="1051" y="747">To_Intermodal_<tspan x="1051" dy="6">Freight_Depot</tspan></text>
<text x="1022" y="761">From_Intermodal_Freight_Depot</text>
<text x="1052" y="774">From_Border_Insp_Admin</text>
<text x="1050" y="788">To_Border_Insp_Admin</text>
<text x="1042" y="801">From_Border_Insp_Systems</text>
<text x="1051" y="813">To_Asset_<tspan x="1051" dy="6">Management</tspan></text>
<text x="1061" y="834">From_Asset_<tspan x="1061" dy="6.6">Management</tspan></text>
<text x="1078" y="849">To_<tspan x="1078" dy="6.4">Other_</tspan><tspan x="1078" dy="6.6">Archives</tspan></text>
<text x="1047" y="855">From_<tspan x="1047" dy="6">Other_</tspan><tspan x="1047" dy="6.6">Archives</tspan></text>
<text x="972" y="833">To_Govt_<tspan x="972" dy="6.4">Reporting_Systems</tspan></text>
<text x="939" y="846">From_Other_<tspan x="939" dy="6.6">Data_Sources</tspan></text>
<text x="974" y="867">To_Other_<tspan x="974" dy="6">Data_Sources</tspan></text>
<text x="1015" y="876">From_Govt_<tspan x="1015" dy="7">Reporting_Systems</tspan></text>
<text x="939" y="874">To_<tspan x="939" dy="6">Financial_</tspan><tspan x="939" dy="6.4">Institution</tspan></text>
<text x="903" y="857">From_<tspan x="903" dy="6.4">Financial_</tspan><tspan x="903" dy="6.6">Institution</tspan></text>
<text x="884" y="813">To_<tspan x="884" dy="6.4">Archived_</tspan><tspan x="884" dy="6.6">Data_</tspan><tspan x="884" dy="6.4">Administrator</tspan></text>
<text x="863" y="847">From_<tspan x="863" dy="7">Archived_</tspan><tspan x="863" dy="6.4">Data_</tspan><tspan x="863" dy="6.6">Administrator</tspan></text>
<text x="799" y="801">From_<tspan x="799" dy="6">Archived_</tspan><tspan x="799" dy="7">Data_</tspan><tspan x="799" dy="6.4">User_</tspan><tspan x="799" dy="7">Systems</tspan></text>
<text x="798" y="845">To_Archived_<tspan x="798" dy="6.4">Data_User_</tspan><tspan x="798" dy="6.4">Systems</tspan></text>
<text x="776" y="746">From_<tspan x="776" dy="6.2">Map_</tspan><tspan x="776" dy="6.2">Update_</tspan><tspan x="776" dy="6.2">Provider</tspan></text>
<text x="764" y="775">To_<tspan x="764" dy="6.4">Map_</tspan><tspan x="764" dy="6.4">Update_</tspan><tspan x="764" dy="6.4">Provider</tspan></text>
<text x="403" y="619">From_<tspan x="403" dy="6">Weather_</tspan><tspan x="403" dy="6">Service</tspan></text>
<text x="405" y="643">To_Care_<tspan x="405" dy="6.6">Facility</tspan></text>
<text x="440" y="651">From_Care_<tspan x="440" dy="6">Facility</tspan></text>
<text x="482" y="617">To_<tspan x="482" dy="6">Media</tspan></text>
<text x="477" y="651">From_Secure_<tspan x="477" dy="6.4">Area_</tspan><tspan x="477" dy="6.4">Environment</tspan></text>
<text x="505" y="603">From_<tspan x="505" dy="6.6">Emergency_</tspan><tspan x="505" dy="6.6">System_</tspan><tspan x="505" dy="6">Operator</tspan></text>
<text x="512" y="644">To_<tspan x="512" dy="6.4">Emergency_</tspan><tspan x="512" dy="6.6">System_</tspan><tspan x="512" dy="6.6">Operator</tspan></text>
<text x="564" y="626">To_<tspan x="564" dy="6.4">Event_</tspan><tspan x="564" dy="6.6">Promoters</tspan></text>
<text x="553" y="650">From_<tspan x="553" dy="6.6">Event_</tspan><tspan x="553" dy="6.6">Promoters</tspan></text>
<text x="635" y="644">From_Public_<tspan x="635" dy="6">Health_System</tspan></text>
<text x="624" y="660">To_Public_<tspan x="624" dy="6.4">Health_System</tspan></text>
<text x="668" y="620">To_<tspan x="668" dy="6.6">Map_</tspan><tspan x="668" dy="6.6">Update_</tspan><tspan x="668" dy="6">Provider</tspan></text>
<text x="672" y="654">From_Map_<tspan x="672" dy="6">Update_</tspan><tspan x="672" dy="6">Provider</tspan></text>
<text x="722" y="623">em_archive_data</text>
<text x="700" y="630">em_archive_<tspan x="700" dy="6">input</tspan></text>
<text x="602" y="674">transit_<tspan x="602" dy="6.6">payment_</tspan><tspan x="602" dy="6">results</tspan></text>
<text x="415" y="687">transit_payment_<tspan x="415" dy="6">transactions_for_</tspan><tspan x="415" dy="6.6">archive</tspan></text>
<text x="489" y="708">transit_<tspan x="489" dy="6.4">payment_</tspan><tspan x="489" dy="6.4">data</tspan></text>
<text x="653" y="717">toll_<tspan x="653" dy="7">archive_data</tspan></text>
<text x="654" y="735">toll_archive_<tspan x="654" dy="6">input</tspan></text>
<text x="609" y="750">wide_area_alert_<tspan x="609" dy="7">notification_for_</tspan><tspan x="609" dy="6">maint</tspan></text>
<text x="664" y="763">alert_<tspan x="664" dy="6">notification_</tspan><tspan x="664" dy="6">status_from_</tspan><tspan x="664" dy="6.6">maint</tspan></text>
<text x="520" y="758">m_and_c_<tspan x="520" dy="7">to_emergency</tspan></text>
<text x="548" y="780">emergency_to_<tspan x="548" dy="6.6">m_and_c</tspan></text>
<text x="469" y="767">From_Alerting_<tspan x="469" dy="6">and_Advisory_</tspan><tspan x="469" dy="6.6">Systems</tspan></text>
<text x="423" y="785">From_<tspan x="423" dy="6">Asset_Management</tspan></text>
<text x="431" y="813">To_Asset_<tspan x="431" dy="6.6">Management</tspan></text>
<text x="560" y="807">From_MC_<tspan x="560" dy="6.6">Administrative_Systems</tspan></text>
<text x="574" y="832">To_MC_<tspan x="574" dy="6">Administrative_Systems</tspan></text>
<text x="529" y="839">To_<tspan x="529" dy="6.4">Media</tspan></text>
<text x="634" y="816">To_<tspan x="634" dy="6.6">Driver</tspan></text>
<text x="681" y="793">m_and_c_<tspan x="681" dy="6.6">to_transit</tspan></text>
<text x="691" y="811">transit_to_<tspan x="691" dy="6.4">m_and_c</tspan></text>
<text x="699" y="826">m_and_c_<tspan x="699" dy="6">archive_input</tspan></text>
<text x="736" y="818">m_and_c_<tspan x="736" dy="6.4">archive_data</tspan></text>
<text x="415" y="874">To_Equipment_<tspan x="415" dy="6">Repair_Facility</tspan></text>
<text x="435" y="895">From_Equipment_<tspan x="435" dy="6">Repair_Facility</tspan></text>
<text x="633" y="883">From_Location_Data_Source</text>
<text x="386" y="791">From_<tspan x="386" dy="6.2">Map_</tspan><tspan x="386" dy="6.2">Update_</tspan><tspan x="386" dy="6.2">Provider</tspan></text>
<text x="408" y="825">To_<tspan x="408" dy="6.6">Map_</tspan><tspan x="408" dy="6.6">Update_</tspan><tspan x="408" dy="6">Provider</tspan></text>
<text x="687" y="896">From_<tspan x="687" dy="6">Enforcement_</tspan><tspan x="687" dy="6">Agency</tspan></text>
<text x="679" y="916">From_MC_<tspan x="679" dy="6">Center_Personnel</tspan></text>
<text x="659" y="926">To_MC_<tspan x="659" dy="6">Center_Personnel</tspan></text>
<text x="422" y="929">To_Multimodal_<tspan x="422" dy="6">Transportation_</tspan><tspan x="422" dy="7">Service_Provider</tspan></text>
<text x="406" y="945">From_<tspan x="406" dy="6.6">Rail_</tspan><tspan x="406" dy="6.4">Operations</tspan></text>
<text x="400" y="965">To_<tspan x="400" dy="6.6">Rail_</tspan><tspan x="400" dy="6">Operations</tspan></text>
<text x="387" y="990">From_<tspan x="387" dy="6">Storage_Facility</tspan></text>
<text x="393" y="1012">To_<tspan x="393" dy="6.4">Storage_Facility</tspan></text>
<text x="413" y="1023">From_Weather_<tspan x="413" dy="6">Service</tspan></text>
<text x="463" y="998">To_Weather_<tspan x="463" dy="6.6">Service</tspan></text>
<text x="452" y="1032">From_Surface_<tspan x="452" dy="6.6">Transportation_</tspan><tspan x="452" dy="6.4">Weather_</tspan><tspan x="452" dy="6.6">Service</tspan></text>
<text x="495" y="1055">To_Basic_<tspan x="495" dy="6.6">MC_</tspan><tspan x="495" dy="6.6">Vehicle</tspan></text>
<text x="463" y="1074">From_Basic_<tspan x="463" dy="6.6">MC_</tspan><tspan x="463" dy="6">Vehicle</tspan></text>
<text x="530" y="1061">From_MC_<tspan x="530" dy="6">Field_Personnel</tspan></text>
<text x="425" y="1094">To_Surface_<tspan x="425" dy="6.6">Transportation_</tspan><tspan x="425" dy="6.4">Weather_</tspan><tspan x="425" dy="6.6">Service</tspan></text>
<text x="489" y="1114">From_Roadway_<tspan x="489" dy="6">Environment</tspan></text>
<text x="543" y="1126">To_MC_<tspan x="543" dy="6">Field_Personnel</tspan></text>
<text x="578" y="1096">From_<tspan x="578" dy="6.6">Other_</tspan><tspan x="578" dy="6">MCV</tspan></text>
<text x="617" y="1103">To_<tspan x="617" dy="6.4">Enforcement_</tspan><tspan x="617" dy="7">Agency</tspan></text>
<text x="596" y="1130">From_Vehicle_<tspan x="596" dy="6">Characteristics</tspan></text>
<text x="674" y="1052">To_<tspan x="674" dy="6">Other_</tspan><tspan x="674" dy="6">MCV</tspan></text>
<text x="718" y="1070">From_<tspan x="718" dy="6.4">Traffic</tspan></text>
<text x="744" y="1029">From_<tspan x="744" dy="6">Other_</tspan><tspan x="744" dy="6.6">MCM</tspan></text>
<text x="738" y="1051">To_<tspan x="738" dy="7">Other_</tspan><tspan x="738" dy="6.4">MCM</tspan></text>
<text x="408" y="1159">cv_<tspan x="408" dy="6.6">archive_data</tspan></text>
<text x="737" y="1167">cv_<tspan x="737" dy="6.4">archive_</tspan><tspan x="737" dy="6.4">input</tspan></text>
<text x="230" y="909">traveler_to_<tspan x="230" dy="6">m_and_c</tspan></text>
<text x="197" y="921">m_and_c_<tspan x="197" dy="6">to_traveler</tspan></text>
<text x="1112" y="937">traffic_m_<tspan x="1112" dy="6">and_c_data</tspan></text>
<text x="1134" y="957">m_and_c_<tspan x="1134" dy="6">to_traffic</tspan></text>
<text x="58" y="667">From_Location_Data_Source</text>
<text x="69" y="677">From_Basic_<tspan x="69" dy="6.6">Commercial_Vehicle</tspan></text>
<text x="108" y="696">To_Commercial_<tspan x="108" dy="6">Vehicle_Driver</tspan></text>
<text x="65" y="700">From_Commercial_<tspan x="65" dy="6">Vehicle_Driver</tspan></text>
<text x="87" y="717">To_Fleet_Freight_Manager</text>
<text x="93" y="731">From_Fleet_Freight_Manager</text>
<text x="81" y="741">From_Alerting_and_<tspan x="81" dy="7">Advisory_Systems</tspan></text>
<text x="73" y="756">To_Other_<tspan x="73" dy="7">CVAS</tspan></text>
<text x="88" y="764">From_Other_<tspan x="88" dy="6.6">CVAS</tspan></text>
<text x="68" y="780">To_Enforcement_Agency</text>
<text x="59" y="792">From_Border_<tspan x="59" dy="7">Insp_Admin</tspan></text>
<text x="66" y="808">To_Border_<tspan x="66" dy="7">Insp_Admin</tspan></text>
<text x="107" y="798">From_Border_<tspan x="107" dy="6">Insp_Systems</tspan></text>
<text x="68" y="838">To_Border_<tspan x="68" dy="6.4">Insp_Systems</tspan></text>
<text x="84" y="850">From_Driver_<tspan x="84" dy="6">Identification_</tspan><tspan x="84" dy="7">Card</tspan></text>
<text x="139" y="834">From_<tspan x="139" dy="6.6">CVO_</tspan><tspan x="139" dy="6.4">Inspector</tspan></text>
<text x="159" y="832">To_CVO_<tspan x="159" dy="6.6">Inspector</tspan></text>
<text x="182" y="826">From_<tspan x="182" dy="6.6">Intermodal_</tspan><tspan x="182" dy="6.6">Freight_</tspan><tspan x="182" dy="6">Shipper</tspan></text>
<text x="184" y="857">To_<tspan x="184" dy="7">Intermodal_</tspan><tspan x="184" dy="6.4">Freight_</tspan><tspan x="184" dy="6.6">Shipper</tspan></text>
<text x="195" y="882">To_Intermodal_<tspan x="195" dy="6.6">Freight_Depot</tspan></text>
<text x="226" y="851">From_<tspan x="226" dy="7">Intermodal_</tspan><tspan x="226" dy="6.6">Freight_</tspan><tspan x="226" dy="6.6">Depot</tspan></text>
<text x="246" y="870">To_CVO_<tspan x="246" dy="6.6">Information_</tspan><tspan x="246" dy="6.6">Requestor</tspan></text>
<text x="271" y="888">From_CVO_<tspan x="271" dy="6">Information_</tspan><tspan x="271" dy="7">Requestor</tspan></text>
<text x="308" y="865">To_Basic_<tspan x="308" dy="6">Commercial_</tspan><tspan x="308" dy="6.6">Vehicle</tspan></text>
<text x="318" y="848">From_<tspan x="318" dy="6.4">Freight_</tspan><tspan x="318" dy="6.6">Equipment</tspan></text>
<text x="318" y="822">To_<tspan x="318" dy="6.4">Freight_</tspan><tspan x="318" dy="6.6">Equipment</tspan></text>
<text x="331" y="782">To_<tspan x="331" dy="6.6">Map_</tspan><tspan x="331" dy="6.6">Update_</tspan><tspan x="331" dy="6.6">Provider</tspan></text>
<text x="313" y="764">From_Map_<tspan x="313" dy="6">Update_Provider</tspan></text>
<text x="316" y="752">To_Alerting_and_Advisory_Systems</text>
<text x="328" y="742">From_Enforcement_Agency</text>
<text x="347" y="822">asset_<tspan x="347" dy="6.4">restrictions_</tspan><tspan x="347" dy="6.6">for_com_veh</tspan></text>
<text x="325" y="690">cf_hazmat_<tspan x="325" dy="6.4">request</tspan></text>
<text x="298" y="659">disable_<tspan x="298" dy="7">commercial_</tspan><tspan x="298" dy="6">vehicle</tspan></text>
<text x="295" y="631">cvo_<tspan x="295" dy="6.6">hazmat_</tspan><tspan x="295" dy="6.4">spill_data</tspan></text>
<text x="375" y="606">cv_<tspan x="375" dy="6">emergency_</tspan><tspan x="375" dy="6.6">data</tspan></text>
<text x="462" y="584">To_<tspan x="462" dy="6.6">Emergency_</tspan><tspan x="462" dy="6.6">Personnel</tspan></text>
</g>
</svg>
